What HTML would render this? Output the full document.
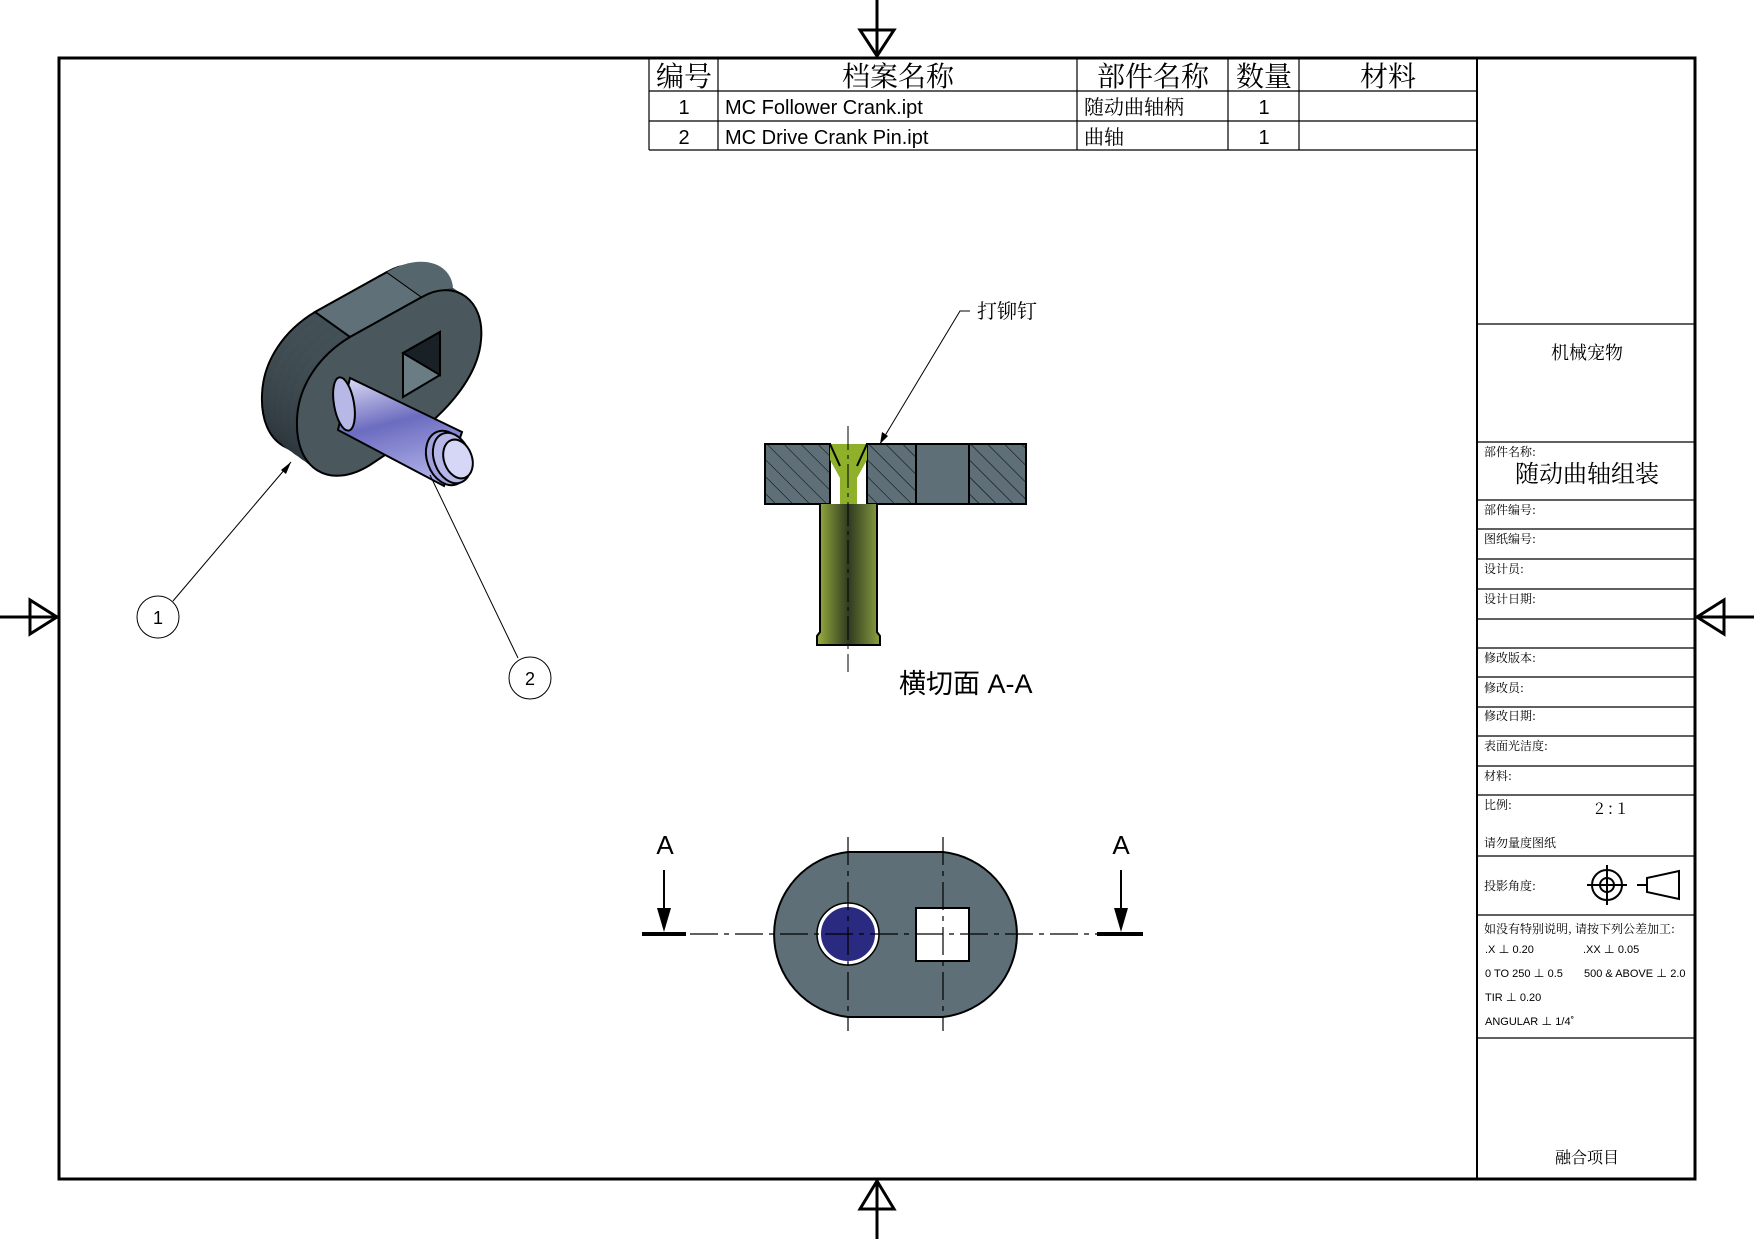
<!DOCTYPE html>
<html><head><meta charset="utf-8"><style>
body{margin:0;background:#fff}
svg{display:block}
text{font-family:"Liberation Sans","Noto Sans CJK SC",sans-serif;fill:#000}
.s{font-family:"Noto Serif CJK SC","Noto Sans CJK SC",serif}
</style></head><body>
<svg width="1754" height="1239" viewBox="0 0 1754 1239" xmlns="http://www.w3.org/2000/svg">
<defs>
<pattern id="h" width="12" height="12" patternUnits="userSpaceOnUse" patternTransform="rotate(-45)">
<rect width="12" height="12" fill="#5e6f78"/><line x1="0" y1="0" x2="0" y2="12" stroke="#000" stroke-width="1"/></pattern>
<linearGradient id="pin" x1="0" y1="0" x2="0.3" y2="1"><stop offset="0" stop-color="#e0e0f6"/><stop offset=".5" stop-color="#6c6cc0"/><stop offset="1" stop-color="#a8a8e4"/></linearGradient>
<linearGradient id="sh" x1="0" y1="0" x2="1" y2="0"><stop offset="0" stop-color="#9ab040"/><stop offset=".5" stop-color="#2f3a20"/><stop offset="1" stop-color="#8aa040"/></linearGradient>
<linearGradient id="side" x1="0" y1="0" x2="0.6" y2="1"><stop offset="0" stop-color="#56666d"/><stop offset="1" stop-color="#1c2328"/></linearGradient>
<path id="ff" d="M350,337 L422,297 C455,278 485,300 481,340 C478,380 440,420 400,445 L370,465 C330,490 295,470 297,420 C298,385 320,355 350,337 Z"/>
</defs>
<!-- border -->
<rect x="59" y="58" width="1636" height="1121" fill="none" stroke="#000" stroke-width="3"/>
<line x1="1477" y1="58" x2="1477" y2="1179" stroke="#000" stroke-width="2"/>
<g stroke="#000" stroke-width="3" fill="none">
<line x1="877" y1="0" x2="877" y2="58"/><polygon points="860,30 894,30 877,56"/>
<line x1="877" y1="1179" x2="877" y2="1239"/><polygon points="860,1209 894,1209 877,1181"/>
<line x1="0" y1="617" x2="59" y2="617"/><polygon points="30,600 30,634 57,617"/>
<line x1="1695" y1="617" x2="1754" y2="617"/><polygon points="1724,600 1724,634 1697,617"/>
</g>
<!-- parts list -->
<g stroke="#000" stroke-width="1.2" fill="none">
<line x1="649" y1="58" x2="649" y2="150"/><line x1="718" y1="58" x2="718" y2="150"/>
<line x1="1077" y1="58" x2="1077" y2="150"/><line x1="1228" y1="58" x2="1228" y2="150"/>
<line x1="1299" y1="58" x2="1299" y2="150"/>
<line x1="649" y1="91" x2="1477" y2="91"/><line x1="649" y1="121" x2="1477" y2="121"/><line x1="649" y1="150" x2="1477" y2="150"/>
</g>
<g font-size="28" text-anchor="middle">
<text x="684" y="86" class="s">编号</text><text x="898" y="86" class="s">档案名称</text>
<text x="1153" y="86" class="s">部件名称</text><text x="1264" y="86" class="s">数量</text><text x="1388" y="86" class="s">材料</text>
</g>
<g font-size="20">
<text x="684" y="114" text-anchor="middle">1</text><text x="725" y="114">MC Follower Crank.ipt</text>
<text x="1084" y="114" class="s">随动曲轴柄</text><text x="1264" y="114" text-anchor="middle">1</text>
<text x="684" y="144" text-anchor="middle">2</text><text x="725" y="144">MC Drive Crank Pin.ipt</text>
<text x="1084" y="144" class="s">曲轴</text><text x="1264" y="144" text-anchor="middle">1</text>
</g>
<!-- title block -->
<g stroke="#000" stroke-width="1.2">
<line x1="1477" y1="324" x2="1695" y2="324"/><line x1="1477" y1="442" x2="1695" y2="442"/>
<line x1="1477" y1="500" x2="1695" y2="500"/><line x1="1477" y1="529" x2="1695" y2="529"/>
<line x1="1477" y1="559" x2="1695" y2="559"/><line x1="1477" y1="589" x2="1695" y2="589"/>
<line x1="1477" y1="619" x2="1695" y2="619"/><line x1="1477" y1="648" x2="1695" y2="648"/>
<line x1="1477" y1="677" x2="1695" y2="677"/><line x1="1477" y1="707" x2="1695" y2="707"/>
<line x1="1477" y1="736" x2="1695" y2="736"/><line x1="1477" y1="766" x2="1695" y2="766"/>
<line x1="1477" y1="795" x2="1695" y2="795"/><line x1="1477" y1="856" x2="1695" y2="856"/>
<line x1="1477" y1="915" x2="1695" y2="915"/><line x1="1477" y1="1038" x2="1695" y2="1038"/>
</g>
<g font-size="12">
<text x="1587" y="359" font-size="18" text-anchor="middle" class="s">机械宠物</text>
<text x="1484" y="456" class="s">部件名称:</text>
<text x="1587" y="482" font-size="24" text-anchor="middle" class="s">随动曲轴组装</text>
<text x="1484" y="514" class="s">部件编号:</text><text x="1484" y="543" class="s">图纸编号:</text>
<text x="1484" y="573" class="s">设计员:</text><text x="1484" y="603" class="s">设计日期:</text>
<text x="1484" y="662" class="s">修改版本:</text><text x="1484" y="692" class="s">修改员:</text>
<text x="1484" y="720" class="s">修改日期:</text><text x="1484" y="750" class="s">表面光洁度:</text>
<text x="1484" y="780" class="s">材料:</text><text x="1484" y="809" class="s">比例:</text>
<text x="1595" y="814" font-size="16" class="s">2 : 1</text>
<text x="1484" y="847" class="s">请勿量度图纸</text><text x="1484" y="890" class="s">投影角度:</text>
<text x="1484" y="933" class="s">如没有特别说明, 请按下列公差加工:</text>
</g>
<g font-size="11">
<text x="1485" y="953">.X ⊥ 0.20</text><text x="1583" y="953">.XX ⊥ 0.05</text>
<text x="1485" y="977">0 TO 250 ⊥ 0.5</text><text x="1584" y="977">500 &amp; ABOVE ⊥ 2.0</text>
<text x="1485" y="1001">TIR ⊥ 0.20</text><text x="1485" y="1025">ANGULAR ⊥ 1/4˚</text>
</g>
<text x="1587" y="1163" font-size="16" text-anchor="middle" class="s">融合项目</text>
<g stroke="#000" stroke-width="2" fill="none">
<circle cx="1607" cy="885" r="15"/><circle cx="1607" cy="885" r="7"/>
<line x1="1587" y1="885" x2="1627" y2="885"/><line x1="1607" y1="865" x2="1607" y2="905"/>
<polygon points="1647,878 1679,871 1679,899 1647,892"/><line x1="1637" y1="885" x2="1647" y2="885"/>
</g>
<!-- iso view -->
<g>
<use href="#ff" transform="translate(-35,-25)" fill="url(#side)" stroke="#000" stroke-width="2"/>
<use href="#ff" transform="translate(-28,-20)" fill="url(#side)"/>
<use href="#ff" transform="translate(-21,-15)" fill="url(#side)"/>
<use href="#ff" transform="translate(-14,-10)" fill="url(#side)"/>
<use href="#ff" transform="translate(-7,-5)" fill="url(#side)"/>
<polygon points="315,312 387,272 422,297 350,337" fill="#5f7078" stroke="#000" stroke-width="2"/>
<path d="M387,272 C420,253 450,262 453,287 L422,297Z" fill="#56666d"/>
<use href="#ff" fill="#4a585e" stroke="#000" stroke-width="2"/>
<polygon points="403,353 440,332 440,375 403,397" fill="#6a7c84" stroke="#000" stroke-width="2"/>
<polygon points="403,353 440,332 440,375" fill="#1a2126" stroke="#000" stroke-width="2"/>
<polygon points="350,378 462,432 444,486 338,430" fill="url(#pin)" stroke="#000" stroke-width="2"/>
<ellipse cx="344" cy="404" rx="10" ry="27" transform="rotate(-10 344 404)" fill="#b8b8e6" stroke="#000" stroke-width="2"/>
<ellipse cx="447" cy="458" rx="20" ry="28" transform="rotate(-20 447 458)" fill="#a0a0dc" stroke="#000" stroke-width="2"/>
<ellipse cx="452" cy="458" rx="18" ry="26" transform="rotate(-20 452 458)" fill="#b6b6e8" stroke="#000" stroke-width="2"/>
<ellipse cx="458" cy="459" rx="14" ry="20" transform="rotate(-20 458 459)" fill="#d6d6f6" stroke="#000" stroke-width="2"/>
</g>
<g stroke="#000" stroke-width="1" fill="none">
<line x1="173" y1="601" x2="291" y2="462"/><line x1="518" y1="658" x2="430" y2="475"/>
<circle cx="158" cy="617" r="21"/><circle cx="530" cy="678" r="21"/>
</g>
<polygon points="291,462 281,470 286,474" fill="#000"/>
<text x="158" y="624" font-size="18" text-anchor="middle">1</text>
<text x="530" y="685" font-size="18" text-anchor="middle">2</text>
<!-- section view -->
<g stroke="#000" stroke-width="2">
<rect x="765" y="444" width="65" height="60" fill="url(#h)"/>
<rect x="867" y="444" width="49" height="60" fill="url(#h)"/>
<rect x="916" y="444" width="53" height="60" fill="#5e6f78"/>
<rect x="969" y="444" width="57" height="60" fill="url(#h)"/>
<path d="M820,504 L820,632 L817,636 L817,645 L880,645 L880,636 L877,632 L877,504" fill="url(#sh)"/>
<path d="M830,444 L867,444 L867,460 L857,478 L857,504 L840,504 L840,478 L830,460Z" fill="#8fb02a" stroke="none"/>
<line x1="830" y1="444" x2="840" y2="466"/><line x1="867" y1="444" x2="857" y2="466"/>
</g>
<line x1="848" y1="426" x2="848" y2="672" stroke="#000" stroke-width="1" stroke-dasharray="24,5,4,5"/>
<polyline points="880,444 960,311 970,311" fill="none" stroke="#000" stroke-width="1"/>
<polygon points="880,444 882,432 888,436" fill="#000"/>
<text x="977" y="318" font-size="20" class="s">打铆钉</text>
<text x="899" y="693" font-size="27">横切面 A-A</text>
<!-- plan view -->
<path d="M848,852 L943,852 A83,83 0 0 1 943,1017 L848,1017 A83,83 0 0 1 848,852Z" fill="#5e6f78" stroke="#000" stroke-width="2"/>
<circle cx="848" cy="934" r="29" fill="#2a2a80" stroke="#fff" stroke-width="4"/>
<circle cx="848" cy="934" r="31" fill="none" stroke="#000" stroke-width="1.5"/>
<rect x="916" y="908" width="53" height="53" fill="#fff" stroke="#000" stroke-width="2"/>
<g stroke="#000" stroke-width="1.2" stroke-dasharray="28,6,5,6" fill="none">
<line x1="690" y1="934" x2="1100" y2="934"/>
<line x1="848" y1="837" x2="848" y2="1031"/><line x1="943" y1="837" x2="943" y2="1031"/>
</g>
<g stroke="#000" stroke-width="4">
<line x1="642" y1="934" x2="686" y2="934"/><line x1="1097" y1="934" x2="1143" y2="934"/>
</g>
<g stroke="#000" stroke-width="2"><line x1="664" y1="870" x2="664" y2="915"/><line x1="1121" y1="870" x2="1121" y2="915"/></g>
<polygon points="657,908 671,908 664,932" fill="#000"/><polygon points="1114,908 1128,908 1121,932" fill="#000"/>
<text x="665" y="854" font-size="26" text-anchor="middle">A</text>
<text x="1121" y="854" font-size="26" text-anchor="middle">A</text>
</svg>
</body></html>
